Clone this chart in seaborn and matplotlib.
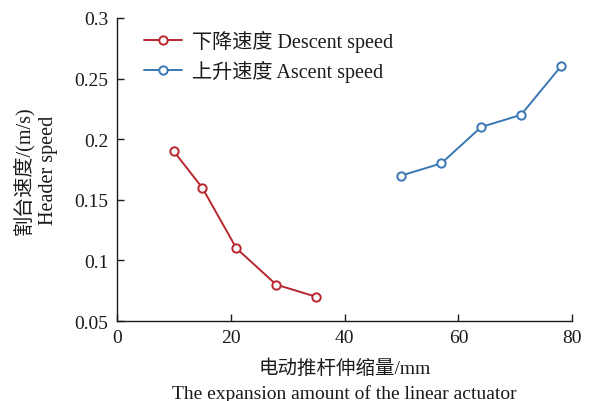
import pandas as pd
import numpy as np
import matplotlib
matplotlib.use('Agg')
import matplotlib.pyplot as plt
import seaborn as sns

# data
descent_x = [10, 15, 21, 28, 35]
descent_y = [0.19, 0.16, 0.11, 0.08, 0.07]
ascent_x = [50, 57, 64, 71, 78]
ascent_y = [0.17, 0.18, 0.21, 0.22, 0.26]
series_names = ['下降速度 Descent speed', '上升速度 Ascent speed']
series_colors = ['#B8262E', '#3A77B4']
x_ticks = [0, 20, 40, 60, 80]
y_ticks = [0.05, 0.1, 0.15, 0.2, 0.25, 0.3]
y_tick_labels = ['0.05', '0.1', '0.15', '0.2', '0.25', '0.3']

sns.set_style('ticks')
plt.rcParams['font.family'] = ['Liberation Serif', 'Noto Sans CJK SC']
plt.rcParams['font.size'] = 14
plt.rcParams['text.color'] = '#1a1a1a'
plt.rcParams['axes.labelcolor'] = '#1a1a1a'

df = pd.concat([
    pd.DataFrame({'x': descent_x, 'y': descent_y, 'series': series_names[0]}),
    pd.DataFrame({'x': ascent_x, 'y': ascent_y, 'series': series_names[1]}),
])

fig = plt.figure(figsize=(5.93, 4.02), dpi=100)
ax = fig.add_axes([0.197, 0.199, 0.768, 0.754])

for name, col in zip(series_names, series_colors):
    sub = df[df['series'] == name]
    sns.lineplot(data=sub, x='x', y='y', color=col, label=name,
                 marker='o', markersize=6, markerfacecolor='white',
                 markeredgecolor=col, markeredgewidth=1.4, linewidth=1.4,
                 ax=ax, sort=False)

ax.set_xlim(0, 80)
ax.set_ylim(0.05, 0.3)
ax.set_xticks(x_ticks)
ax.set_yticks(y_ticks)
ax.set_yticklabels(y_tick_labels)
ax.tick_params(direction='in', length=5, width=1, colors='#1a1a1a', labelsize=14)
ax.tick_params(axis='x', pad=6)
ax.tick_params(axis='y', pad=6)
for side in ['top', 'right']:
    ax.spines[side].set_visible(False)
for side in ['left', 'bottom']:
    ax.spines[side].set_linewidth(1.0)
    ax.spines[side].set_color('#1a1a1a')

ax.set_xlabel('电动推杆伸缩量/mm\nThe expansion amount of the linear actuator',
              fontsize=14, linespacing=1.45, labelpad=9)
ax.set_ylabel('割台速度/(m/s)\nHeader speed', fontsize=14.5, linespacing=1.35, labelpad=12)

leg = ax.legend(loc='upper left', frameon=False, handlelength=1.9, handletextpad=0.5,
                bbox_to_anchor=(0.02, 1.02), fontsize=14.5, labelspacing=0.4)

fig.savefig('out.png', dpi=100)
